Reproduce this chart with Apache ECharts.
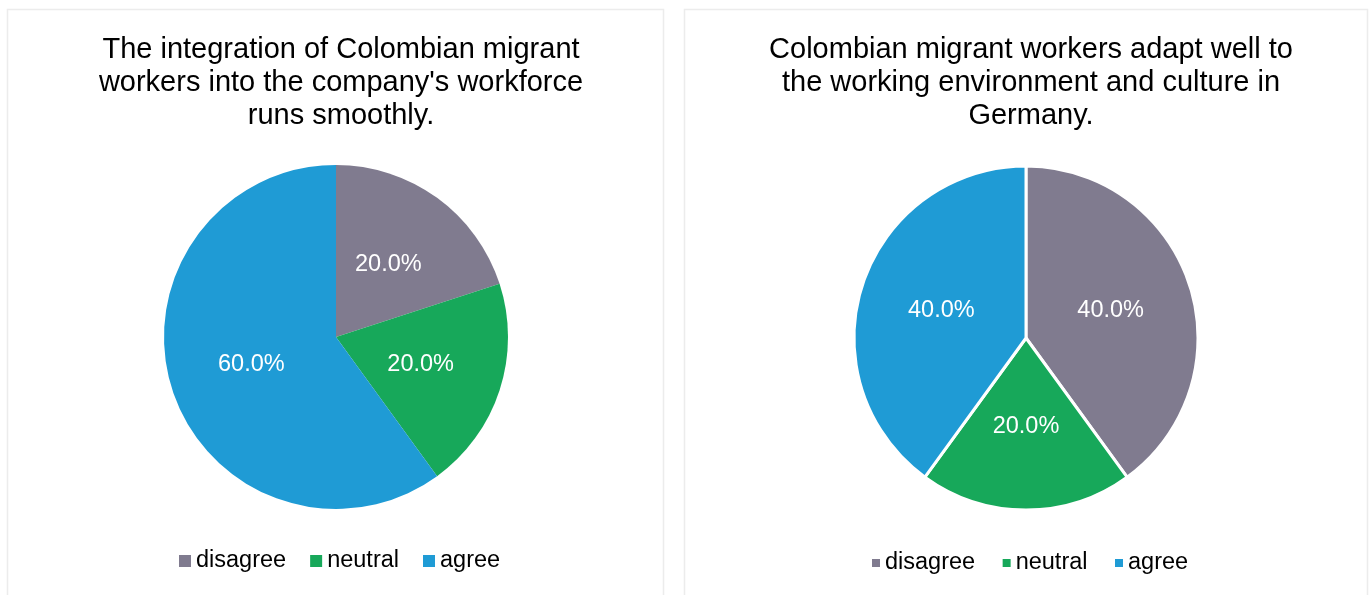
<!DOCTYPE html>
<html>
<head>
    <meta http-equiv=Content-Type content="text/html; charset=utf-8">
    <title>Colombian migrant workers</title>
    <script type="text/javascript" src="https://cdn.jsdelivr.net/npm/echarts@6/dist/echarts.min.js"></script>
    <style>
        html, body { margin: 0; padding: 0; background: #fff; }
        #chartmain { width: 1371px; height: 595px; }
    </style>
</head>
<body>
<div id="chartmain"></div>

<script type="text/javascript">
    // survey answers
    var categories = ['disagree', 'neutral', 'agree'];
    var colors = ['#807b8f', '#17a85a', '#1f9bd5'];

    // share of answers in %, left chart
    var integrationValues = [20, 20, 60];
    // share of answers in %, right chart
    var adaptValues = [40, 20, 40];

    var titleLeft = "The integration of Colombian migrant\nworkers into the company's workforce\nruns smoothly.";
    var titleRight = "Colombian migrant workers adapt well to\nthe working environment and culture in\nGermany.";

    var fontName = '"Liberation Sans", Arial, sans-serif';

    function toData(values) {
        var arr = [];
        for (var i = 0; i < categories.length; i++) {
            arr.push({ name: categories[i], value: values[i], itemStyle: { color: colors[i] } });
        }
        return arr;
    }

    function pieLabel() {
        return {
            show: true,
            position: 'inside',
            color: '#fff',
            fontSize: 23.5,
            fontFamily: fontName,
            formatter: function (p) { return p.percent.toFixed(1) + '%'; }
        };
    }

    var myChart = echarts.init(document.getElementById('chartmain'));

    var option = {
        animation: false,
        color: colors,
        graphic: [
            { type: 'rect', shape: { x: 7.5, y: 9.5, width: 656, height: 600 }, style: { fill: '#fff', stroke: '#ececec', lineWidth: 1.5 }, z: -10 },
            { type: 'rect', shape: { x: 684.5, y: 9.5, width: 683, height: 600 }, style: { fill: '#fff', stroke: '#ececec', lineWidth: 1.5 }, z: -10 }
        ],
        title: [
            {
                text: titleLeft, left: 336, top: 28, textAlign: 'center',
                textStyle: { fontSize: 29, fontWeight: 'normal', color: '#000', lineHeight: 33, fontFamily: fontName }
            },
            {
                text: titleRight, left: 1026, top: 28, textAlign: 'center',
                textStyle: { fontSize: 29, fontWeight: 'normal', color: '#000', lineHeight: 33, fontFamily: fontName }
            }
        ],
        legend: [
            {
                seriesIndex: 0, data: categories, left: 179, top: 549, padding: 0,
                icon: 'rect', itemWidth: 12, itemHeight: 12, itemGap: 24,
                textStyle: { fontSize: 23.5, color: '#000', fontFamily: fontName }
            },
            {
                seriesIndex: 1, data: categories, left: 872, top: 551, padding: 0,
                icon: 'rect', itemWidth: 8, itemHeight: 8, itemGap: 27.5,
                textStyle: { fontSize: 23.5, color: '#000', fontFamily: fontName }
            }
        ],
        series: [
            {
                name: 'integration', type: 'pie', center: [336, 337], radius: 172,
                startAngle: 90, clockwise: true, legendHoverLink: false,
                label: pieLabel(), labelLine: { show: false },
                emphasis: { disabled: true },
                data: toData(integrationValues)
            },
            {
                name: 'adapt', type: 'pie', center: [1026, 338], radius: 172,
                startAngle: 90, clockwise: true,
                itemStyle: { borderColor: '#fff', borderWidth: 3 },
                label: pieLabel(), labelLine: { show: false },
                emphasis: { disabled: true },
                data: toData(adaptValues)
            }
        ]
    };
    myChart.setOption(option);
</script>
</body>
</html>
